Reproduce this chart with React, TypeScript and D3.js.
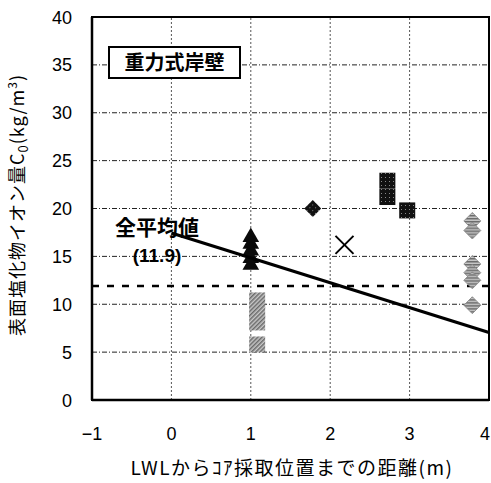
import React from "react";
import * as d3 from "d3";

const xTicks = [-1, 0, 1, 2, 3, 4];
const yTicks = [0, 5, 10, 15, 20, 25, 30, 35, 40];

// series: triangles at x=1
const triX = [1, 1, 1, 1, 1];
const triY = [17.0, 16.3, 15.6, 14.8, 14.1];
// gray hatched squares
const sqGX = [1.08, 1.08, 1.08, 1.08];
const sqGY = [10.4, 9.3, 8.1, 5.8];
// dark diamond
const dmDX = [1.78];
const dmDY = [20.0];
// cross
const crX = [2.18];
const crY = [16.2];
// dark squares
const sqDX = [2.72, 2.72, 2.97];
const sqDY = [22.9, 21.2, 19.8];
// gray diamonds
const dmGX = [3.79, 3.79, 3.79, 3.79, 3.79, 3.79];
const dmGY = [18.7, 17.7, 14.2, 13.3, 12.5, 9.9];

const meanValue = 11.9;
const regX = [0, 4];
const regY = [17.45, 7.05];

const W = 491, H = 483;
const x = d3.scaleLinear().domain([-1, 4]).range([92, 489]);
const y = d3.scaleLinear().domain([0, 40]).range([400, 17]);

const latin = "'Liberation Sans', Arial, sans-serif";
const jp = "'Noto Sans CJK JP', 'Noto Sans', sans-serif";

export default function App() {
  const tri = d3.symbol().type(d3.symbolTriangle).size(120)();
  const line = d3.line<number>().x((d, i) => x(regX[i])).y((d) => y(d));
  return (
    <div style={{ position: "absolute", left: 0, top: 0 }}>
      <svg width={W} height={H} style={{ display: "block", background: "#fff" }}>
        <defs>
          <pattern id="hatch" width="3" height="3" patternUnits="userSpaceOnUse" patternTransform="rotate(45)">
            <rect width="3" height="3" fill="#c8c8c8" />
            <rect width="1.5" height="3" fill="#6a6a6a" />
          </pattern>
          <pattern id="dark" width="4" height="4" patternUnits="userSpaceOnUse">
            <rect width="4" height="4" fill="#111" />
            <rect x="1" y="1" width="1" height="1" fill="#888" />
          </pattern>
        </defs>
        {/* grid */}
        {yTicks.filter((t) => t > 0 && t < 40).map((t) => (
          <line key={"gy" + t} x1={x(-1)} x2={x(4)} y1={y(t)} y2={y(t)} stroke="#222" strokeWidth={1} strokeDasharray="5 2 1 2" />
        ))}
        {xTicks.filter((t) => t > -1 && t < 4).map((t) => (
          <line key={"gx" + t} x1={x(t)} x2={x(t)} y1={y(0)} y2={y(40)} stroke="#555" strokeWidth={1} strokeDasharray="2 2" />
        ))}
        {/* border */}
        <rect x={x(-1)} y={y(40)} width={x(4) - x(-1)} height={y(0) - y(40)} fill="none" stroke="#000" strokeWidth={2} />
        <line x1={x(-1)} x2={x(4)} y1={y(0)} y2={y(0)} stroke="#000" strokeWidth={2.5} />
        <line x1={x(-1)} x2={x(-1)} y1={y(0)} y2={y(40)} stroke="#000" strokeWidth={2.5} />

        {/* mean dashed line */}
        <line x1={x(-1)} x2={x(4)} y1={y(meanValue)} y2={y(meanValue)} stroke="#000" strokeWidth={2.5} strokeDasharray="7 8" />

        {/* gray squares */}
        {sqGX.map((v, i) => (
          <rect key={"sg" + i} x={x(v) - 8} y={y(sqGY[i]) - 8} width={16} height={16} fill="url(#hatch)" />
        ))}
        {/* gray diamonds */}
        {dmGX.map((v, i) => (
          <rect key={"dg" + i} x={-6} y={-6} width={12} height={12} fill="url(#hatch)" stroke="#888" strokeWidth={0.8}
            transform={`translate(${x(v)},${y(dmGY[i])}) rotate(45)`} />
        ))}
        {/* dark diamond */}
        {dmDX.map((v, i) => (
          <rect key={"dd" + i} x={-6} y={-6} width={12} height={12} fill="url(#dark)"
            transform={`translate(${x(v)},${y(dmDY[i])}) rotate(45)`} />
        ))}
        {/* dark squares */}
        {sqDX.map((v, i) => (
          <rect key={"sd" + i} x={x(v) - 8} y={y(sqDY[i]) - 8} width={16} height={16} fill="url(#dark)" />
        ))}
        {/* cross */}
        {crX.map((v, i) => (
          <g key={"cr" + i} transform={`translate(${x(v)},${y(crY[i])})`} stroke="#000" strokeWidth={2}>
            <line x1={-9} y1={-9} x2={9} y2={9} />
            <line x1={-9} y1={9} x2={9} y2={-9} />
          </g>
        ))}
        {/* triangles */}
        {triX.map((v, i) => (
          <path key={"tr" + i} d={tri || ""} transform={`translate(${x(v)},${y(triY[i])})`} fill="#0a0a0a" />
        ))}

        {/* regression */}
        <path d={line(regY) || ""} fill="none" stroke="#000" strokeWidth={3.2} />

        {/* annotations */}
        <text x={157} y={235} textAnchor="middle" fontFamily={jp} fontSize={21} fontWeight={700}>全平均値</text>
        <text x={157} y={262} textAnchor="middle" fontFamily={latin} fontSize={19} fontWeight={700}>(11.9)</text>

        {/* legend box */}
        <rect x={109} y={47} width={131} height={31} fill="#fff" stroke="#000" strokeWidth={2} />
        <text x={174.5} y={70} textAnchor="middle" fontFamily={jp} fontSize={20} fontWeight={700}>重力式岸壁</text>

        {/* y tick labels */}
        {yTicks.map((t) => (
          <text key={"yl" + t} x={72} y={y(t) + 6.5} textAnchor="end" fontFamily={latin} fontSize={18}>{t}</text>
        ))}
        {/* x tick labels */}
        {xTicks.map((t) => (
          <text key={"xl" + t} x={t === 4 ? 490 : x(t)} y={440} textAnchor={t === 4 ? "end" : "middle"} fontFamily={latin} fontSize={18}>{t < 0 ? "−" + Math.abs(t) : t}</text>
        ))}

        {/* axis titles */}
        <text x={292} y={475} textAnchor="middle" fontFamily={jp} fontSize={19} letterSpacing={1.5}>LWLからｺｱ採取位置までの距離(m)</text>
        <text transform="translate(24,205) rotate(-90)" textAnchor="middle" fontFamily={jp} fontSize={18} letterSpacing={1}>
          表面塩化物イオン量C<tspan fontSize={13} dy={4}>0</tspan><tspan dy={-4}>(kg/m</tspan><tspan fontSize={12} dy={-7}>3</tspan><tspan dy={7}>)</tspan>
        </text>
      </svg>
    </div>
  );
}
